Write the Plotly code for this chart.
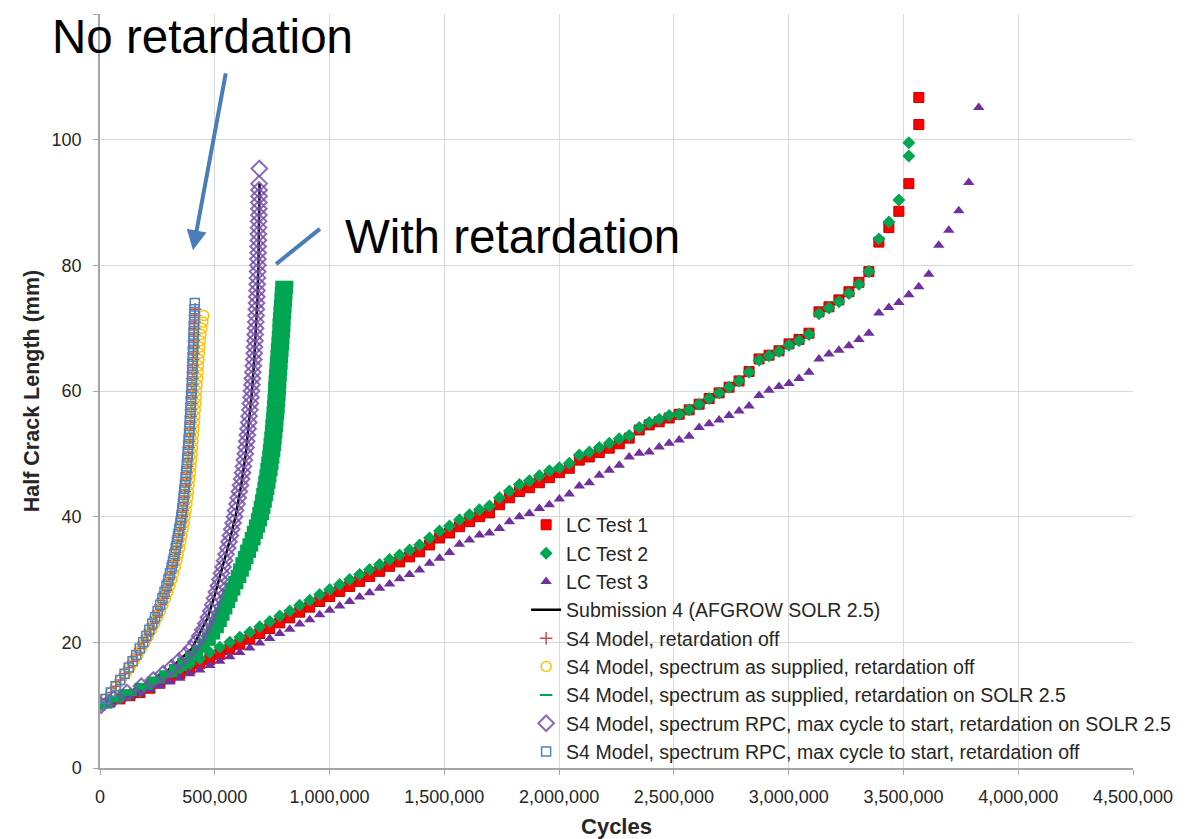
import plotly.graph_objects as go

# ---------------- Test data ----------------
TEST1_X = [0, 43500, 87000, 130500, 174000, 217500, 261000, 304500, 348000, 391500,
           435000, 478500, 522000, 565500, 609000, 652500, 696000, 739500, 783000, 826500,
           870000, 913500, 957000, 1000500, 1044000, 1087500, 1131000, 1174500, 1218000, 1261500,
           1305000, 1348500, 1392000, 1435500, 1479000, 1522500, 1566000, 1609500, 1653000, 1696500,
           1740000, 1783500, 1827000, 1870500, 1914000, 1957500, 2001000, 2044500, 2088000, 2131500,
           2175000, 2218500, 2262000, 2305500, 2349000, 2392500, 2436000, 2479500, 2523000, 2566500,
           2610000, 2653500, 2697000, 2740500, 2784000, 2827500, 2871000, 2914500, 2958000, 3001500,
           3045000, 3088500, 3132000, 3175500, 3219000, 3262500, 3306000, 3349500, 3393000, 3436500,
           3480000, 3523500, 3567000, 3567000]
TEST1_Y = [10.0, 10.5, 11.0, 11.5, 12.0, 12.7, 13.5, 14.3, 15.0, 15.8,
           16.6, 17.3, 18.1, 18.9, 19.7, 20.5, 21.4, 22.2, 23.1, 23.9,
           24.8, 25.6, 26.5, 27.3, 28.1, 28.9, 29.7, 30.5, 31.3, 32.1,
           32.8, 33.6, 34.4, 35.5, 36.6, 37.4, 38.4, 39.2, 40.0, 40.6,
           41.9, 43.0, 44.0, 44.6, 45.4, 46.2, 47.0, 47.7, 49.0, 49.5,
           50.2, 50.9, 51.6, 52.5, 53.8, 54.6, 55.1, 55.7, 56.3, 57.0,
           57.9, 58.8, 59.7, 60.6, 61.6, 63.1, 65.1, 65.7, 66.4, 67.5,
           68.2, 69.2, 72.6, 73.4, 74.5, 75.8, 77.3, 79.0, 83.7, 86.0,
           88.6, 93.0, 102.4, 106.7]

TEST2_X = [0, 43500, 87000, 130500, 174000, 217500, 261000, 304500, 348000, 391500,
           435000, 478500, 522000, 565500, 609000, 652500, 696000, 739500, 783000, 826500,
           870000, 913500, 957000, 1000500, 1044000, 1087500, 1131000, 1174500, 1218000, 1261500,
           1305000, 1348500, 1392000, 1435500, 1479000, 1522500, 1566000, 1609500, 1653000, 1696500,
           1740000, 1783500, 1827000, 1870500, 1914000, 1957500, 2001000, 2044500, 2088000, 2131500,
           2175000, 2218500, 2262000, 2305500, 2349000, 2392500, 2436000, 2479500, 2523000, 2566500,
           2610000, 2653500, 2697000, 2740500, 2784000, 2827500, 2871000, 2914500, 2958000, 3001500,
           3045000, 3088500, 3132000, 3175500, 3219000, 3262500, 3306000, 3349500, 3393000, 3436500,
           3480000, 3523500, 3523500]
TEST2_Y = [10.2, 10.7, 11.2, 11.7, 12.2, 13.5, 14.3, 15.1, 15.8, 16.6,
           17.4, 18.4, 19.2, 20.0, 20.8, 21.6, 22.5, 23.3, 24.2, 25.0,
           25.9, 26.7, 27.6, 28.4, 29.2, 30.0, 30.8, 31.6, 32.4, 33.2,
           33.9, 34.7, 35.5, 36.6, 37.7, 38.5, 39.5, 40.3, 41.1, 41.7,
           43.0, 44.1, 45.1, 45.7, 46.5, 47.3, 47.8, 48.5, 49.8, 50.3,
           51.0, 51.7, 52.4, 52.9, 54.2, 55.0, 55.5, 56.1, 56.3, 57.0,
           57.9, 58.8, 59.7, 60.6, 61.6, 63.0, 64.9, 65.6, 66.3, 67.3,
           68.0, 69.0, 72.3, 73.2, 74.2, 75.5, 77.0, 79.0, 84.2, 86.9,
           90.4, 97.4, 99.5]

TEST3_X = [0, 43500, 87000, 130500, 174000, 217500, 261000, 304500, 348000, 391500,
           435000, 478500, 522000, 565500, 609000, 652500, 696000, 739500, 783000, 826500,
           870000, 913500, 957000, 1000500, 1044000, 1087500, 1131000, 1174500, 1218000, 1261500,
           1305000, 1348500, 1392000, 1435500, 1479000, 1522500, 1566000, 1609500, 1653000, 1696500,
           1740000, 1783500, 1827000, 1870500, 1914000, 1957500, 2001000, 2044500, 2088000, 2131500,
           2175000, 2218500, 2262000, 2305500, 2349000, 2392500, 2436000, 2479500, 2523000, 2566500,
           2610000, 2653500, 2697000, 2740500, 2784000, 2827500, 2871000, 2914500, 2958000, 3001500,
           3045000, 3088500, 3132000, 3175500, 3219000, 3262500, 3306000, 3349500, 3393000, 3436500,
           3480000, 3523500, 3567000, 3610500, 3654000, 3697500, 3741000, 3784500, 3828000]
TEST3_Y = [10.0, 10.4, 10.9, 11.4, 11.9, 12.5, 13.1, 13.7, 14.3, 15.0,
           15.6, 16.3, 17.0, 17.7, 18.4, 19.1, 19.9, 20.6, 21.4, 22.1,
           22.9, 23.6, 24.4, 25.1, 25.8, 26.5, 27.2, 27.9, 28.6, 29.3,
           30.1, 30.8, 31.5, 32.6, 33.4, 34.3, 35.6, 36.3, 37.1, 37.4,
           38.1, 39.2, 40.0, 40.5, 41.3, 41.9, 42.8, 43.6, 44.9, 45.4,
           46.6, 47.4, 48.2, 49.5, 50.1, 50.3, 51.1, 51.7, 52.2, 52.8,
           54.2, 54.8, 55.4, 56.1, 56.8, 57.6, 59.3, 60.1, 60.7, 61.2,
           62.0, 63.0, 65.1, 65.9, 66.5, 67.2, 68.2, 69.2, 72.4, 73.3,
           74.1, 75.3, 76.6, 78.6, 83.2, 85.6, 88.7, 93.2, 105.1]

# ---------------- Model predictions ----------------
SUB4_X = [0, 100000, 200000, 300000, 400000, 470000, 500000, 530000, 560000, 590000,
          615000, 635000, 650000, 662000, 672000, 680000, 686000, 690000, 692000, 694000, 695000]
SUB4_Y = [9.8, 11.7, 13.3, 15.6, 19.0, 24.0, 27.5, 31.5, 35.5, 40.0,
          45.0, 50.0, 55.0, 60.0, 65.0, 70.0, 75.0, 80.0, 85.0, 90.0, 93.0]

RET_OFF_X = [2000, 26000, 49000, 70000, 90000, 109000, 127000, 144000, 160000, 175000,
             190000, 204000, 217000, 230000, 242000, 253000, 264000, 274000, 283000, 292000,
             300000, 307000, 314000, 320000, 326000, 332000, 337000, 342000, 347000, 352000,
             356000, 360000, 363000, 366000, 369000, 372000, 375000, 377000, 380000, 382000,
             384000, 386000, 388000, 390000, 392000, 393000, 395000, 396000, 398000, 399000,
             401000, 402000, 403000, 404000, 405000, 406000, 407000, 408000, 409000, 410000,
             411000, 412000, 413000, 414000]
RET_OFF_Y = [10, 11, 12, 13, 14, 15, 16, 17, 18, 19, 20, 21, 22, 23, 24, 25, 26, 27, 28, 29,
             30, 31, 32, 33, 34, 35, 36, 37, 38, 39, 40, 41, 42, 43, 44, 45, 46, 47, 48, 49,
             50, 51, 52, 53, 54, 55, 56, 57, 58, 59, 60, 61, 62, 63, 64, 65, 66, 67, 68, 69,
             70, 71, 72, 73]

SUPPLIED_OFF_X = [0, 24000, 48000, 70000, 91000, 111000, 130000, 148000, 165000, 181000,
                  196000, 211000, 225000, 238000, 251000, 263000, 274000, 285000, 295000, 304000,
                  313000, 321000, 328000, 335000, 341000, 347000, 352000, 357000, 362000, 367000,
                  371000, 375000, 379000, 382000, 385000, 388000, 391000, 394000, 396000, 399000,
                  401000, 403000, 405000, 407000, 409000, 411000, 413000, 415000, 417000, 419000,
                  421000, 423000, 425000, 427000, 429000, 431000, 433000, 435000, 437000, 440000,
                  444000, 448000, 452000]
SUPPLIED_OFF_Y = [10, 11, 12, 13, 14, 15, 16, 17, 18, 19, 20, 21, 22, 23, 24, 25, 26, 27, 28, 29,
                  30, 31, 32, 33, 34, 35, 36, 37, 38, 39, 40, 41, 42, 43, 44, 45, 46, 47, 48, 49,
                  50, 51, 52, 53, 54, 55, 56, 57, 58, 59, 60, 61, 62, 63, 64, 65, 66, 67, 68, 69,
                  70, 71, 72]

SUPPLIED_ON_X = [15000, 65000, 120000, 190000, 245000, 298000, 340000, 376000, 410000, 438000,
                 465000, 484000, 500000, 513000, 525000, 537000, 549000, 560000, 572000, 585000,
                 598000, 609000, 619000, 629000, 640000, 650000, 660000, 670000, 679000, 688000,
                 697000, 703000, 709000, 715000, 720000, 725000, 729000, 734000, 738000, 742000,
                 746000, 749000, 752000, 755000, 758000, 760000, 763000, 765000, 767000, 769000,
                 771000, 772000, 774000, 776000, 778000, 780000, 782000, 784000, 786000, 788000,
                 790000, 791000, 793000, 795000, 797000, 799000, 801000, 803000]
SUPPLIED_ON_Y = [10, 11, 12, 13, 14, 15, 16, 17, 18, 19, 20, 21, 22, 23, 24, 25, 26, 27, 28, 29,
                 30, 31, 32, 33, 34, 35, 36, 37, 38, 39, 40, 41, 42, 43, 44, 45, 46, 47, 48, 49,
                 50, 51, 52, 53, 54, 55, 56, 57, 58, 59, 60, 61, 62, 63, 64, 65, 66, 67, 68, 69,
                 70, 71, 72, 73, 74, 75, 76, 77]

RPC_ON_X = [5000, 60000, 118000, 180000, 232000, 275000, 312000, 343000, 372000, 398000,
            418000, 434000, 448000, 461000, 472000, 482000, 491000, 499000, 507000, 515000,
            522000, 529000, 536000, 543000, 549000, 556000, 562000, 568000, 574000, 580000,
            586000, 591000, 597000, 602000, 607000, 612000, 617000, 621000, 625000, 629000,
            633000, 636000, 639000, 642000, 645000, 648000, 650000, 653000, 655000, 658000,
            660000, 662000, 664000, 666000, 668000, 670000, 672000, 673000, 675000, 676000,
            678000, 679000, 680000, 681000, 682000, 683000, 684000, 685000, 686000, 687000,
            688000, 688000, 689000, 689000, 690000, 690000, 691000, 691000, 692000, 692000,
            692000, 693000, 693000, 693000, 694000]
RPC_ON_Y = [10, 11, 12, 13, 14, 15, 16, 17, 18, 19, 20, 21, 22, 23, 24, 25, 26, 27, 28, 29,
            30, 31, 32, 33, 34, 35, 36, 37, 38, 39, 40, 41, 42, 43, 44, 45, 46, 47, 48, 49,
            50, 51, 52, 53, 54, 55, 56, 57, 58, 59, 60, 61, 62, 63, 64, 65, 66, 67, 68, 69,
            70, 71, 72, 73, 74, 75, 76, 77, 78, 79, 80, 81, 82, 83, 84, 85, 86, 87, 88, 89,
            90, 91, 92, 93, 95.4]

RPC_OFF_X = [0, 24000, 47000, 68000, 88000, 107000, 125000, 142000, 158000, 173000,
             188000, 202000, 215000, 228000, 240000, 251000, 262000, 272000, 281000, 290000,
             298000, 305000, 312000, 318000, 324000, 330000, 335000, 340000, 345000, 350000,
             354000, 358000, 361000, 364000, 367000, 370000, 373000, 375000, 378000, 380000,
             382000, 384000, 386000, 388000, 390000, 391000, 393000, 394000, 396000, 397000,
             399000, 400000, 401000, 402000, 403000, 404000, 405000, 406000, 407000, 408000,
             409000, 410000, 411000, 412000, 413000]
RPC_OFF_Y = [10, 11, 12, 13, 14, 15, 16, 17, 18, 19, 20, 21, 22, 23, 24, 25, 26, 27, 28, 29,
             30, 31, 32, 33, 34, 35, 36, 37, 38, 39, 40, 41, 42, 43, 44, 45, 46, 47, 48, 49,
             50, 51, 52, 53, 54, 55, 56, 57, 58, 59, 60, 61, 62, 63, 64, 65, 66, 67, 68, 69,
             70, 71, 72, 73, 74]

X_TICKS = [0, 500000, 1000000, 1500000, 2000000, 2500000, 3000000, 3500000, 4000000, 4500000]
Y_TICKS = [0, 20, 40, 60, 80, 100, 120]

FONT = "Arial, Liberation Sans, sans-serif"
GREEN = "#00A651"

fig = go.Figure()

fig.add_trace(go.Scatter(x=TEST1_X, y=TEST1_Y, mode="markers", name="LC Test 1",
                         marker=dict(symbol="square", size=10, color="#FF0000",
                                     line=dict(color="#C00000", width=1))))
fig.add_trace(go.Scatter(x=TEST2_X, y=TEST2_Y, mode="markers", name="LC Test 2",
                         marker=dict(symbol="diamond", size=10, color=GREEN,
                                     line=dict(width=0))))
fig.add_trace(go.Scatter(x=TEST3_X, y=TEST3_Y, mode="markers", name="LC Test 3",
                         marker=dict(symbol="triangle-up", size=10, color="#7030A0",
                                     line=dict(width=0))))
fig.add_trace(go.Scatter(x=SUB4_X, y=SUB4_Y, mode="lines", name="Submission 4 (AFGROW SOLR 2.5)",
                         line=dict(color="#000000", width=2.5)))
fig.add_trace(go.Scatter(x=RET_OFF_X, y=RET_OFF_Y, mode="markers", name="S4 Model, retardation off",
                         marker=dict(symbol="cross-thin", size=9, color="#C0504D",
                                     line=dict(color="#C0504D", width=1.5))))
fig.add_trace(go.Scatter(x=SUPPLIED_OFF_X, y=SUPPLIED_OFF_Y, mode="markers",
                         name="S4 Model, spectrum as supplied, retardation off",
                         marker=dict(symbol="circle-open", size=10, color="#FFC000",
                                     line=dict(width=1.5))))
# legend-only entry (thin dash) for the retardation-on model
fig.add_trace(go.Scatter(x=[None], y=[None], mode="markers",
                         name="S4 Model, spectrum as supplied, retardation on SOLR 2.5",
                         legendgroup="g7",
                         marker=dict(symbol="line-ew", size=9, color=GREEN,
                                     line=dict(color=GREEN, width=2))))
fig.add_trace(go.Scatter(x=SUPPLIED_ON_X, y=SUPPLIED_ON_Y, mode="markers", showlegend=False,
                         legendgroup="g7",
                         marker=dict(symbol="line-ew", size=13, color=GREEN,
                                     line=dict(color=GREEN, width=7))))
fig.add_trace(go.Scatter(x=RPC_ON_X, y=RPC_ON_Y, mode="markers",
                         name="S4 Model, spectrum RPC, max cycle to start, retardation on SOLR 2.5",
                         marker=dict(symbol="diamond-open", size=12, color="rgba(118,80,172,0.85)",
                                     line=dict(width=2))))
fig.add_trace(go.Scatter(x=RPC_OFF_X, y=RPC_OFF_Y, mode="markers",
                         name="S4 Model, spectrum RPC, max cycle to start, retardation off",
                         marker=dict(symbol="square-open", size=9, color="#4F81BD",
                                     line=dict(width=1.5))))

ARROW = "#4A7EBB"
fig.add_annotation(x=405000, y=82.4, ax=549000, ay=110.8, xref="x", yref="y",
                   axref="x", ayref="y", text="", showarrow=True,
                   arrowhead=2, arrowsize=1.0, arrowwidth=4, arrowcolor=ARROW)
fig.add_shape(type="line", x0=958000, y0=85.8, x1=767000, y1=80.2, xref="x", yref="y",
              line=dict(color=ARROW, width=4))
fig.add_annotation(x=-0.0484, y=0.9708, xref="paper", yref="paper", text="No retardation",
                   showarrow=False, xanchor="left", yanchor="middle",
                   font=dict(family=FONT, size=47.5, color="#000000"))
fig.add_annotation(x=0.2352, y=0.7043, xref="paper", yref="paper", text="With retardation",
                   showarrow=False, xanchor="left", yanchor="middle",
                   font=dict(family=FONT, size=47.5, color="#000000"))

# page body has an 8px margin, so the figure is sized to fit inside the 1188x839 window
fig.update_layout(
    width=1180, height=831,
    margin=dict(l=92, r=55, t=6, b=71, autoexpand=False),
    paper_bgcolor="#FFFFFF", plot_bgcolor="#FFFFFF",
    font=dict(family=FONT, color="#262626"),
    showlegend=True,
    legend=dict(x=0.4125, y=0.348, xanchor="left", yanchor="top",
                bgcolor="rgba(0,0,0,0)", font=dict(family=FONT, size=19.5, color="#262626"),
                tracegroupgap=0),
    xaxis=dict(range=[0, 4500000], tickvals=X_TICKS, tickformat=",d", automargin=False,
               showgrid=True, gridcolor="#D9D9D9", gridwidth=1,
               showline=True, linecolor="#A6A6A6", linewidth=1.5,
               ticks="outside", ticklen=5, tickcolor="#A6A6A6",
               tickfont=dict(family=FONT, size=18, color="#262626"),
               ticklabelstandoff=7, zeroline=False,
               title=dict(text="<b>Cycles</b>", font=dict(family=FONT, size=22, color="#262626"),
                          standoff=15)),
    yaxis=dict(range=[0, 120], tickvals=Y_TICKS, automargin=False,
               showgrid=True, gridcolor="#D9D9D9", gridwidth=1,
               showline=True, linecolor="#A6A6A6", linewidth=1.5,
               ticks="outside", ticklen=5, tickcolor="#A6A6A6",
               tickfont=dict(family=FONT, size=18, color="#262626"),
               ticklabelstandoff=8, zeroline=False,
               title=dict(text="<b>Half Crack Length (mm)</b>",
                          font=dict(family=FONT, size=21.5, color="#262626"), standoff=6)),
)

fig.write_html("out.html")
